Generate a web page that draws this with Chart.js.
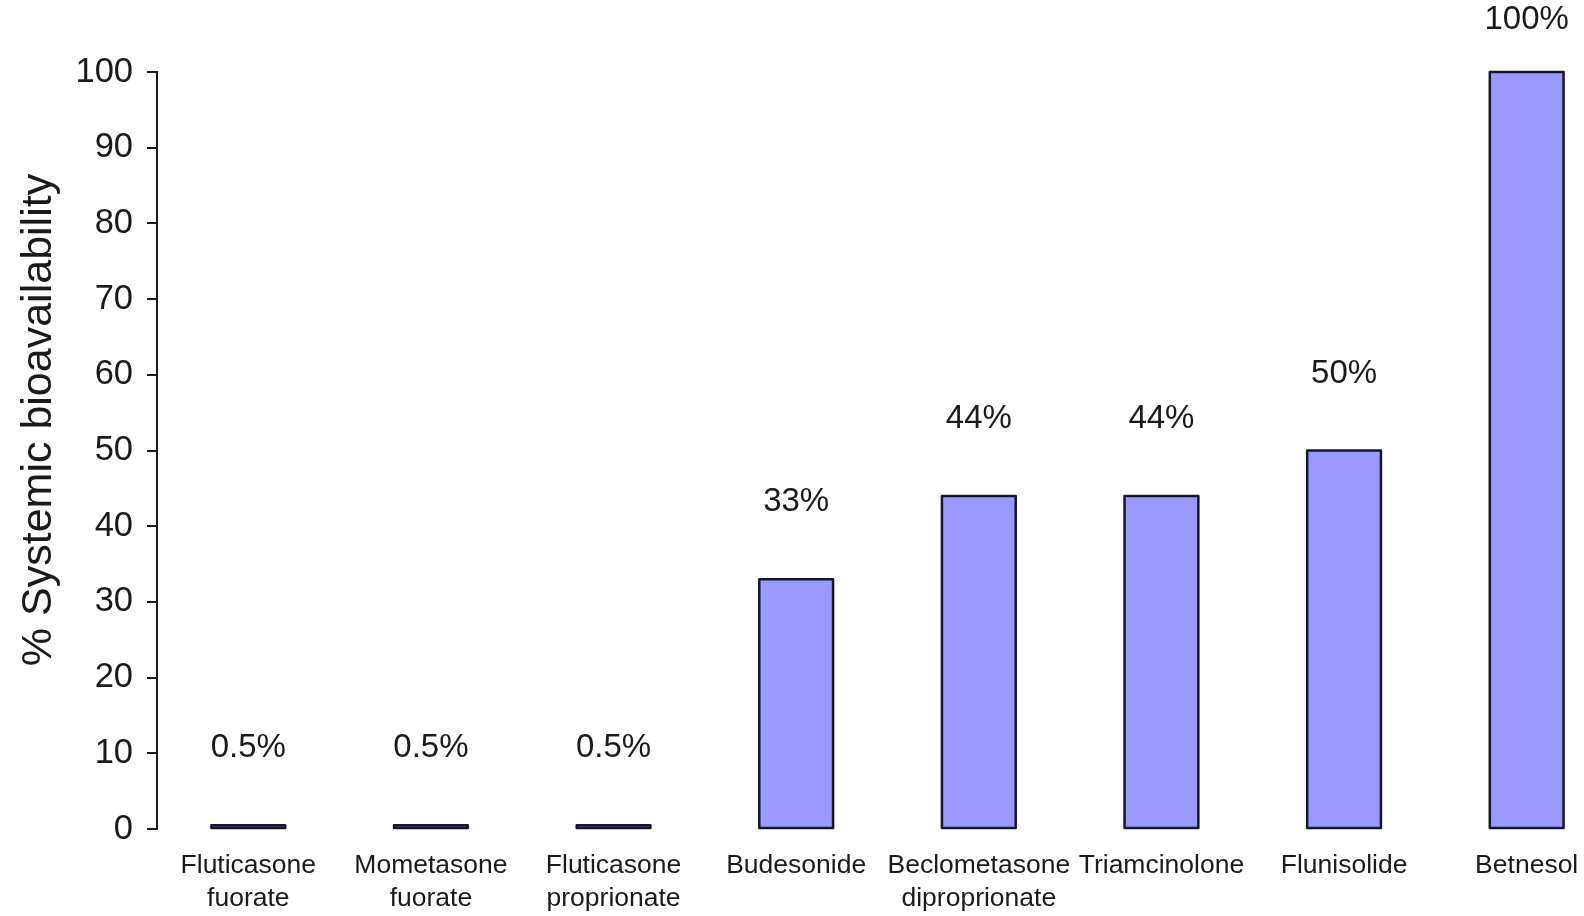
<!DOCTYPE html>
<html>
<head>
<meta charset="utf-8">
<script src="https://cdn.jsdelivr.net/npm/chart.js@4.4.1/dist/chart.umd.min.js"></script>
<style>
  html, body { margin: 0; padding: 0; background: #ffffff; overflow: hidden; }
  #wrap { width: 1584px; height: 916px; overflow: hidden; position: relative; }
  #c { position: absolute; left: 0; top: 0; }
</style>
</head>
<body>
<div id="wrap"><canvas id="c" width="1618" height="916"></canvas></div>
<script>
const categories = [
  ["Fluticasone", "fuorate"],
  ["Mometasone", "fuorate"],
  ["Fluticasone", "proprionate"],
  ["Budesonide"],
  ["Beclometasone", "diproprionate"],
  ["Triamcinolone"],
  ["Flunisolide"],
  ["Betnesol"]
];
const bioavailability = [0.5, 0.5, 0.5, 33, 44, 44, 50, 100];
const valueLabels = ["0.5%", "0.5%", "0.5%", "33%", "44%", "44%", "50%", "100%"];
const yTicks = [0, 10, 20, 30, 40, 50, 60, 70, 80, 90, 100];
const yTitle = "% Systemic bioavailability";

const FONT = "'Liberation Sans', Arial, Helvetica, sans-serif";
const INK = '#1a1a1a';

const barOutlinePlugin = {
  id: 'barOutline',
  afterDatasetsDraw(chart) {
    const ctx = chart.ctx;
    const meta = chart.getDatasetMeta(0);
    ctx.save();
    ctx.strokeStyle = '#16162a';
    ctx.lineWidth = 2.5;
    ctx.lineJoin = 'round';
    meta.data.forEach((bar) => {
      const p = bar.getProps(['x', 'y', 'base', 'width'], true);
      const left = p.x - p.width / 2;
      const top = Math.min(p.y, p.base);
      const h = Math.abs(p.base - p.y);
      ctx.strokeRect(left, top, p.width, h);
    });
    ctx.restore();
  }
};

const valueLabelPlugin = {
  id: 'valueLabels',
  afterDatasetsDraw(chart) {
    const ctx = chart.ctx;
    const meta = chart.getDatasetMeta(0);
    ctx.save();
    ctx.font = '33px ' + FONT;
    ctx.fillStyle = INK;
    ctx.textAlign = 'center';
    ctx.textBaseline = 'middle';
    meta.data.forEach((bar, i) => {
      let y = bar.y - 77;
      if (y < 20) y = 20;
      ctx.fillText(valueLabels[i], bar.x, y);
    });
    ctx.restore();
  }
};

const yTitlePlugin = {
  id: 'yTitle',
  afterDraw(chart) {
    const ctx = chart.ctx;
    ctx.save();
    ctx.translate(39, 420);
    ctx.rotate(-Math.PI / 2);
    ctx.font = '43px ' + FONT;
    ctx.fillStyle = INK;
    ctx.textAlign = 'center';
    ctx.textBaseline = 'middle';
    ctx.fillText(yTitle, 0, 0);
    ctx.restore();
  }
};

new Chart(document.getElementById('c'), {
  type: 'bar',
  data: {
    labels: categories,
    datasets: [{
      data: bioavailability,
      backgroundColor: '#9999ff',
      borderWidth: 0,
      barPercentage: 1,
      categoryPercentage: 0.404
    }]
  },
  options: {
    responsive: false,
    animation: false,
    devicePixelRatio: 1,
    layout: { padding: { top: 72, right: 0, bottom: 0, left: 0 } },
    plugins: {
      legend: { display: false },
      tooltip: { enabled: false },
      title: { display: false }
    },
    scales: {
      x: {
        type: 'category',
        grid: { display: false, drawTicks: false },
        border: { display: false },
        ticks: {
          autoSkip: false,
          maxRotation: 0,
          minRotation: 0,
          padding: 20,
          color: INK,
          font: { family: FONT, size: 26.5, lineHeight: 1.25 }
        },
        afterFit(scale) { scale.height = 87; }
      },
      y: {
        min: 0,
        max: 100,
        afterBuildTicks(scale) { scale.ticks = yTicks.map(v => ({ value: v })); },
        grid: {
          display: true,
          drawOnChartArea: false,
          drawTicks: true,
          tickLength: 10,
          color: INK,
          lineWidth: 2
        },
        border: { display: true, color: INK, width: 2 },
        ticks: {
          padding: 14,
          color: INK,
          font: { family: FONT, size: 34.5 }
        },
        afterFit(scale) { scale.width = 157; }
      }
    }
  },
  plugins: [barOutlinePlugin, valueLabelPlugin, yTitlePlugin]
});
</script>
</body>
</html>
